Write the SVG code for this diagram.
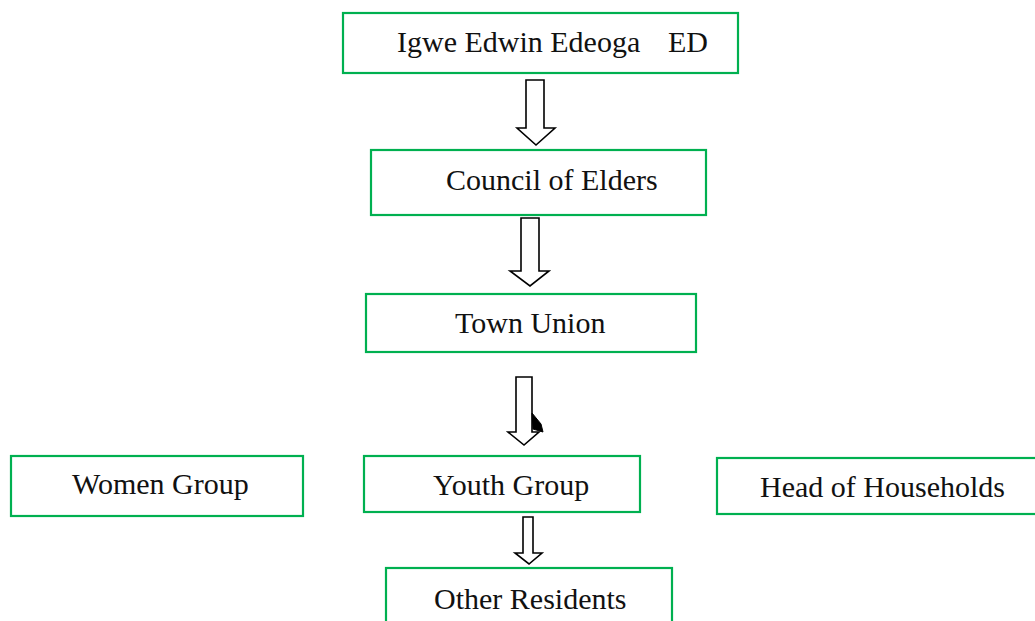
<svg xmlns="http://www.w3.org/2000/svg" width="1035" height="621" viewBox="0 0 1035 621">
<style>
.box{fill:#fff;stroke:#00B050;stroke-width:2.2}
.lbl{font-family:"Liberation Serif","DejaVu Serif",serif;font-size:30px;fill:#111}
.arr{fill:#fff;stroke:#000;stroke-width:1.6;stroke-linejoin:miter}
</style>
<rect width="1035" height="621" fill="#fff"/>
<g id="connectors">
<path class="arr" d="M526,80 H544 V128 H555 L536,145 L517,128 H526 Z"/>
<path class="arr" d="M521,218 H539 V271 H549 L530,286 L510,271 H521 Z"/>
<path class="arr" d="M516,377 H532 V432 H539 L524,445 L508,432 H516 Z"/>
<path d="M532,413 L541,424 L543,432 L533,429 Z" fill="#000" stroke="#000" stroke-width="1"/>
<path class="arr" d="M523,517 H533 V553 H542 L529,564 L515,553 H523 Z"/>
</g>
<g id="igwe">
<rect class="box" x="343" y="13" width="395" height="60"/>
<text class="lbl" x="397" y="52">Igwe Edwin Edeoga</text>
<text class="lbl" x="668" y="52">ED</text>
</g>
<g id="council">
<rect class="box" x="371" y="150" width="335" height="65"/>
<text class="lbl" x="446" y="190">Council of Elders</text>
</g>
<g id="town">
<rect class="box" x="366" y="294" width="330" height="58"/>
<text class="lbl" x="455" y="333">Town Union</text>
</g>
<g id="women">
<rect class="box" x="11" y="456" width="292" height="60"/>
<text class="lbl" x="72" y="494">Women Group</text>
</g>
<g id="youth">
<rect class="box" x="364" y="456" width="276" height="56"/>
<text class="lbl" x="433" y="495">Youth Group</text>
</g>
<g id="head">
<rect class="box" x="717" y="458" width="330" height="56"/>
<text class="lbl" x="760" y="497">Head of Households</text>
</g>
<g id="other">
<rect class="box" x="386" y="568" width="286" height="70"/>
<text class="lbl" x="434" y="609">Other Residents</text>
</g>
</svg>
